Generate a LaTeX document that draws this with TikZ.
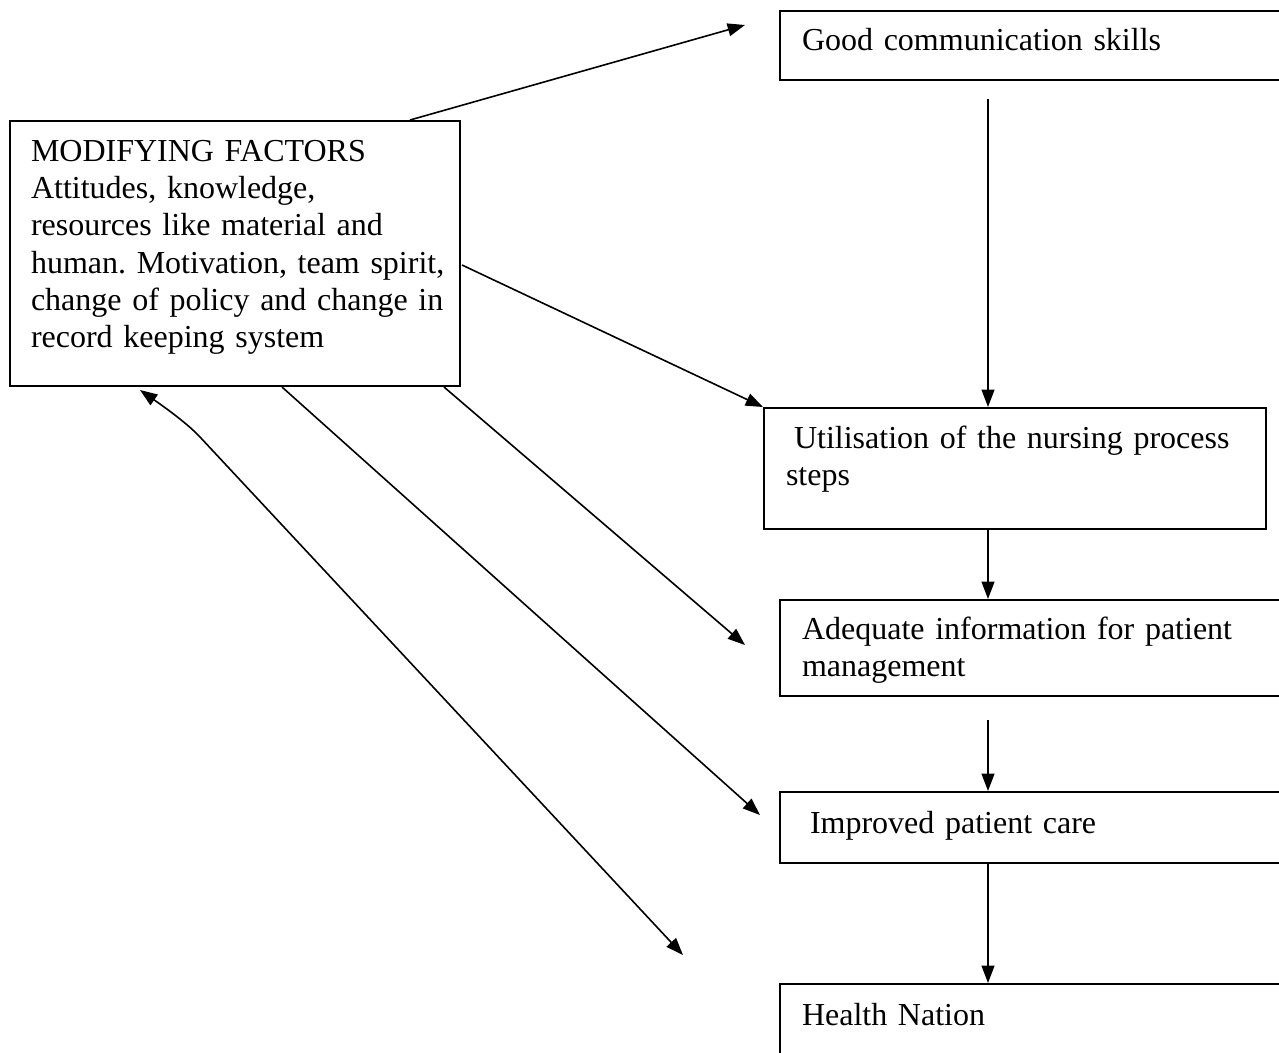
\documentclass[tikz,border=0pt]{standalone}
\usepackage{fontspec}
\setmainfont{Liberation Serif}
\usetikzlibrary{arrows.meta,calc}
\frenchspacing
\newcommand{\boxfont}{\fontsize{12pt}{14pt}\selectfont\setlength{\spaceskip}{2.4pt plus 1pt minus 0.5pt}}

\begin{document}
\begin{tikzpicture}[
    x=0.375pt, y=-0.375pt,
    box/.style={rectangle, draw, line width=0.75pt, anchor=north west, align=left, inner ysep=0pt, inner xsep=8.25pt, font=\boxfont},
    arrow/.style={-{Triangle[length=6.5pt,width=4.8pt]}, line width=0.6pt},
    twoway/.style={{Triangle[length=6.5pt,width=4.8pt]}-{Triangle[length=6.5pt,width=4.8pt]}, line width=0.6pt}
]
\useasboundingbox (0,0) rectangle (1279,1052);
\clip (0,0) rectangle (1279,1052);

% Nodes
\node[box, inner xsep=7.875pt, text width=153pt, text height=15pt, text depth=84.375pt] (factors) at (9,120)
    {MODIFYING FACTORS\\Attitudes, knowledge,\\resources like material and\\\mbox{human. Motivation, team spirit,}\\\mbox{change of policy and change in}\\record keeping system};
\node[box, text width=175.125pt, text height=14.625pt, text depth=11.25pt] (comm) at (779,10) {Good communication skills};
\node[box, text width=171.75pt, text height=15pt, text depth=30.375pt] (nursing) at (763,407)
    {\hspace*{3pt}Utilisation of the nursing process\\steps};
\node[box, text width=175.125pt, text height=14.625pt, text depth=21.375pt] (info) at (779,599)
    {Adequate information for patient\\management};
\node[box, inner xsep=11.25pt, text width=169.125pt, text height=15.375pt, text depth=11.25pt] (care) at (779,791) {Improved patient care};
\node[box, text width=175.125pt, text height=15.375pt, text depth=15.375pt] (nation) at (779,983) {Health Nation};

% Free ends
\coordinate (toComm) at ($(comm.north west)+(-34,15)$);
\coordinate (toInfo) at ($(info.north west)+(-34,46)$);
\coordinate (toCare) at ($(care.north west)+(-19,24)$);
\coordinate (toNation) at (683,955);

% Arrows
\draw[arrow] ($(factors.north west)+(401,0)$) -- (toComm);
\draw[arrow] ($(factors.north east)+(1,145)$) -- (nursing.north west);
\draw[arrow] ($(factors.south east)+(-17,0)$) -- (toInfo);
\draw[arrow] ($(factors.south west)+(273,0)$) -- (toCare);
\draw[twoway] ($(factors.south west)+(131,3)$) .. controls (160,404) and (186,422) .. (200,437) -- (toNation);

\draw[arrow] ($(comm.south west)+(209,18)$) -- ($(nursing.north west)+(225,0)$);
\draw[arrow] ($(nursing.south west)+(225,0)$) -- ($(info.north west)+(209,0)$);
\draw[arrow] ($(info.south west)+(209,23)$) -- ($(care.north west)+(209,0)$);
\draw[arrow] ($(care.south west)+(209,0)$) -- ($(nation.north west)+(209,0)$);

\end{tikzpicture}
\end{document}
